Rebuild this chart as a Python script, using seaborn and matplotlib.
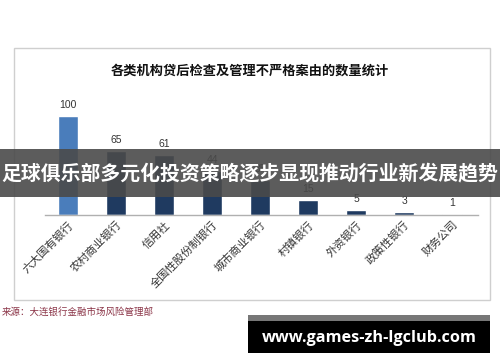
import matplotlib
matplotlib.use("Agg")
import matplotlib.pyplot as plt
from matplotlib.patches import Rectangle
import seaborn as sns
import pandas as pd

categories = ["六大国有银行", "农村商业银行", "信用社", "全国性股份制银行", "城市商业银行",
              "村镇银行", "外资银行", "政策性银行", "财务公司"]
values = [100, 65, 61, 44, 35, 15, 5, 3, 1]
title = "各类机构贷后检查及管理不严格案由的数量统计"
source = "来源：大连银行金融市场风险管理部"
banner = "足球俱乐部多元化投资策略逐步显现推动行业新发展趋势"
site = "www.games-zh-lgclub.com"
bar_colors = ["#4a7dbb"] + ["#1f3a60"] * 8

sns.set_theme(style="white")
plt.rcParams["font.family"] = ["Noto Sans CJK SC", "DejaVu Sans"]

W, H = 500, 362
fig = plt.figure(figsize=(5.0, 3.62), dpi=100)
fig.patch.set_facecolor("white")

def fx(px):
    return px / W

def fy(py):
    return (H - py) / H

# chart frame
fig.patches.append(Rectangle((fx(14), fy(300)), fx(490) - fx(14), fy(48) - fy(300),
                             transform=fig.transFigure, fill=False,
                             edgecolor="#cfcfcf", linewidth=1.0, zorder=0))

ax = fig.add_axes([fx(45), fy(215), fx(478) - fx(45), fy(96) - fy(215)])
df = pd.DataFrame({"cat": categories, "val": values})
sns.barplot(data=df, x="cat", y="val", hue="cat", palette=bar_colors,
            legend=False, width=0.4, ax=ax, saturation=1)
ax.set_xlim(-0.48, 8.54)
ax.set_ylim(0, 120)
ax.set_facecolor("none")
for s in ["top", "right", "left"]:
    ax.spines[s].set_visible(False)
ax.spines["bottom"].set_color("#b0b0b0")
ax.spines["bottom"].set_linewidth(1.0)
ax.set_yticks([])
ax.set_xlabel("")
ax.set_ylabel("")
ax.tick_params(axis="x", length=0, pad=3)
ax.set_xticks(range(len(categories)))
ax.set_xticklabels(categories, rotation=45, ha="right", va="top",
                   rotation_mode="anchor", fontsize=8, color="#333333")
for i, v in enumerate(values):
    ax.text(i, v + 6, str(v), ha="center", va="bottom", fontsize=7.5,
            color="#333333", family=["Liberation Sans", "DejaVu Sans"], clip_on=False)

fig.text(0.5, fy(71), title, ha="center", va="center", fontsize=9.5,
         fontweight="bold", color="#111111")
fig.text(fx(2), fy(312), source, ha="left", va="center", fontsize=6.8,
         color="#8a3346")

# overlay banner
fig.patches.append(Rectangle((0, fy(197)), 1, fy(149) - fy(197),
                             transform=fig.transFigure, facecolor="#4a4a4a",
                             alpha=0.9, edgecolor="none", zorder=10))
fig.text(0.5, fy(173), banner, ha="center", va="center", fontsize=14.3,
         fontweight="bold", color="white", zorder=11)

# site box
fig.patches.append(Rectangle((fx(248), fy(353)), fx(490) - fx(248), fy(315) - fy(353),
                             transform=fig.transFigure, facecolor="black",
                             edgecolor="none", zorder=10))
fig.patches.append(Rectangle((fx(248), fy(321)), fx(490) - fx(248), fy(315) - fy(321),
                             transform=fig.transFigure, facecolor="#777777",
                             edgecolor="none", zorder=11))
fig.text(fx(369), fy(338), site, ha="center", va="center", fontsize=11.7,
         fontweight="bold", color="white", family=["Open Sans", "DejaVu Sans"], zorder=12)

fig.savefig("out.png", dpi=100)
